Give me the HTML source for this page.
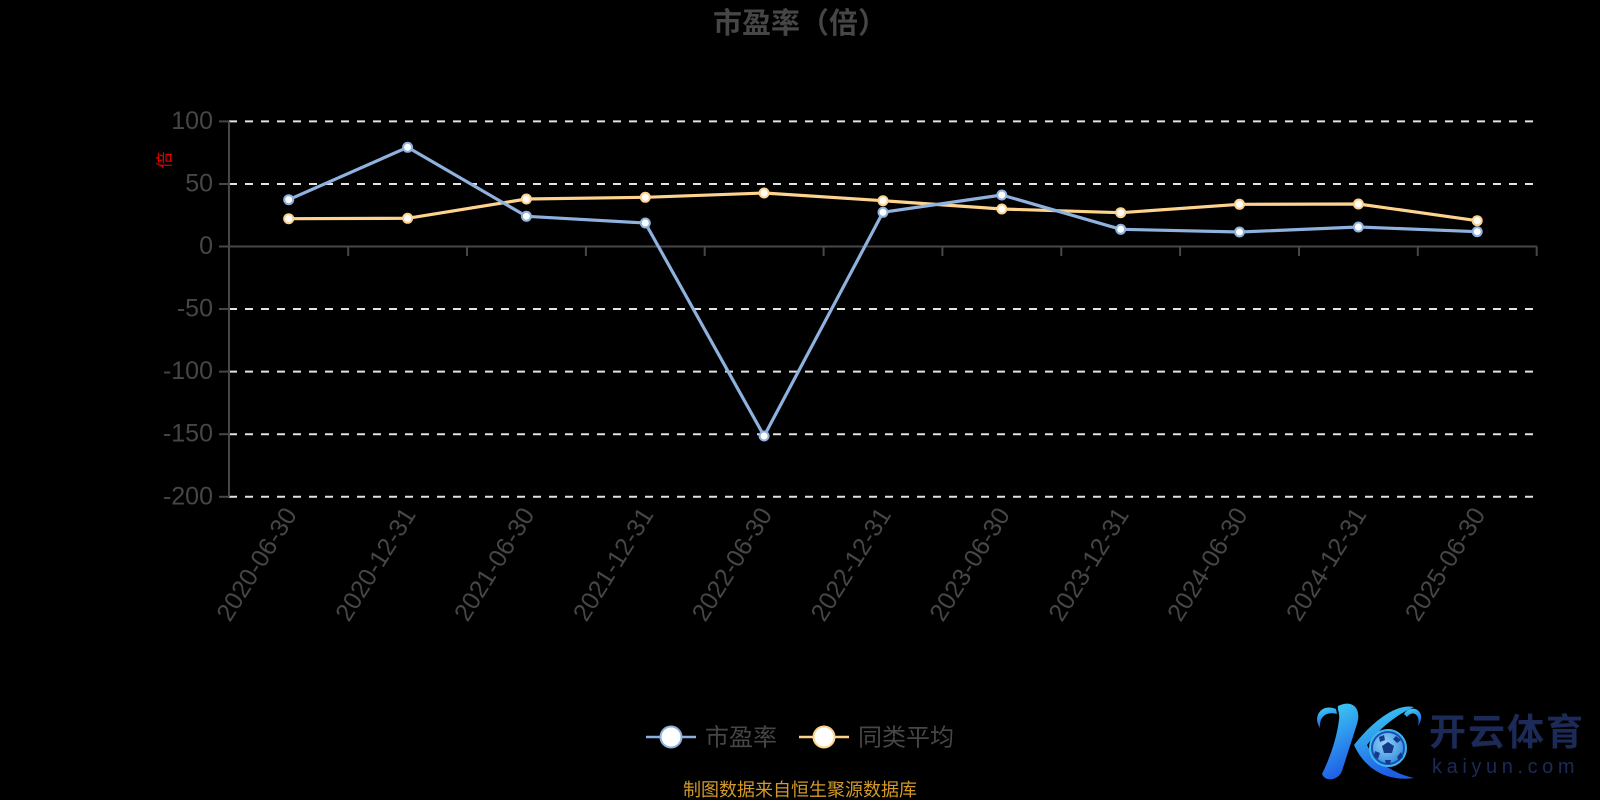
<!DOCTYPE html>
<html>
<head>
<meta charset="utf-8">
<style>
html,body{margin:0;padding:0;background:#000;}
svg{display:block;}
text{font-family:"Liberation Sans","Noto Sans CJK SC",sans-serif;}
</style>
</head>
<body>
<svg width="1600" height="800" viewBox="0 0 1600 800" xmlns="http://www.w3.org/2000/svg">
<rect width="1600" height="800" fill="#000"/>
<defs>
<linearGradient id="kg" x1="0" y1="0" x2="0.3" y2="1">
<stop offset="0" stop-color="#3fd6f5"/>
<stop offset="1" stop-color="#1f5fe6"/>
</linearGradient>
<radialGradient id="bg" cx="0.4" cy="0.35" r="0.7">
<stop offset="0" stop-color="#8fd2f7"/>
<stop offset="1" stop-color="#3a8fe0"/>
</radialGradient>
</defs>

<!-- title -->
<text x="800" y="33" text-anchor="middle" font-size="29" font-weight="bold" fill="#464646" style="font-family:'Noto Sans CJK SC',sans-serif">市盈率（倍）</text>

<!-- grid lines -->
<g stroke="#e2e2e2" stroke-width="2" stroke-dasharray="8 8" fill="none">
<line x1="229" y1="121.4" x2="1537" y2="121.4"/>
<line x1="229" y1="184" x2="1537" y2="184"/>
<line x1="229" y1="309" x2="1537" y2="309"/>
<line x1="229" y1="371.6" x2="1537" y2="371.6"/>
<line x1="229" y1="434.2" x2="1537" y2="434.2"/>
<line x1="229" y1="496.8" x2="1537" y2="496.8"/>
</g>

<!-- axes -->
<g stroke="#474747" stroke-width="2" fill="none">
<line x1="229" y1="121.4" x2="229" y2="496.8"/>
<line x1="219" y1="121.4" x2="229" y2="121.4"/>
<line x1="219" y1="184" x2="229" y2="184"/>
<line x1="219" y1="246.5" x2="229" y2="246.5"/>
<line x1="219" y1="309" x2="229" y2="309"/>
<line x1="219" y1="371.6" x2="229" y2="371.6"/>
<line x1="219" y1="434.2" x2="229" y2="434.2"/>
<line x1="219" y1="496.8" x2="229" y2="496.8"/>
<line x1="229" y1="246.5" x2="1537" y2="246.5"/>
<line x1="348.2" y1="246.5" x2="348.2" y2="256"/>
<line x1="467" y1="246.5" x2="467" y2="256"/>
<line x1="585.9" y1="246.5" x2="585.9" y2="256"/>
<line x1="704.7" y1="246.5" x2="704.7" y2="256"/>
<line x1="823.6" y1="246.5" x2="823.6" y2="256"/>
<line x1="942.4" y1="246.5" x2="942.4" y2="256"/>
<line x1="1061.3" y1="246.5" x2="1061.3" y2="256"/>
<line x1="1180.1" y1="246.5" x2="1180.1" y2="256"/>
<line x1="1299" y1="246.5" x2="1299" y2="256"/>
<line x1="1417.8" y1="246.5" x2="1417.8" y2="256"/>
<line x1="1536.7" y1="246.5" x2="1536.7" y2="256"/>
</g>

<!-- y labels -->
<g font-size="25" fill="#464646" text-anchor="end">
<text x="213" y="129">100</text>
<text x="213" y="191.5">50</text>
<text x="213" y="254">0</text>
<text x="213" y="316.5">-50</text>
<text x="213" y="379">-100</text>
<text x="213" y="441.7">-150</text>
<text x="213" y="504.3">-200</text>
</g>

<!-- y axis name -->
<text x="0" y="0" font-size="17" fill="#e00000" text-anchor="middle" transform="translate(166,160) rotate(-90)" dominant-baseline="middle" style="font-family:'Noto Sans CJK SC',sans-serif">倍</text>

<!-- x labels -->
<g font-size="25" fill="#464646" text-anchor="end" dominant-baseline="middle">
<text transform="translate(292,511) rotate(-58)">2020-06-30</text>
<text transform="translate(410.9,511) rotate(-58)">2020-12-31</text>
<text transform="translate(529.7,511) rotate(-58)">2021-06-30</text>
<text transform="translate(648.6,511) rotate(-58)">2021-12-31</text>
<text transform="translate(767.4,511) rotate(-58)">2022-06-30</text>
<text transform="translate(886.3,511) rotate(-58)">2022-12-31</text>
<text transform="translate(1005.1,511) rotate(-58)">2023-06-30</text>
<text transform="translate(1124,511) rotate(-58)">2023-12-31</text>
<text transform="translate(1242.8,511) rotate(-58)">2024-06-30</text>
<text transform="translate(1361.7,511) rotate(-58)">2024-12-31</text>
<text transform="translate(1480.5,511) rotate(-58)">2025-06-30</text>
</g>

<!-- orange series -->
<polyline fill="none" stroke="#fdd38e" stroke-width="3.2" stroke-linejoin="round"
points="288.7,218.7 407.6,218.3 526.4,199 645.3,197.3 764.1,193 883,200.7 1001.8,209 1120.7,212.7 1239.5,204.3 1358.4,204 1477.2,220.7"/>
<!-- blue series -->
<polyline fill="none" stroke="#8eb1de" stroke-width="3.2" stroke-linejoin="round"
points="288.7,199.7 407.6,147.3 526.4,216.3 645.3,223 764.1,436 883,212.3 1001.8,195 1120.7,229.3 1239.5,232 1358.4,227 1477.2,231.7"/>

<!-- markers -->
<g fill="#fff" stroke="#fdd38e" stroke-width="2">
<circle cx="288.7" cy="218.7" r="4.5"/>
<circle cx="407.6" cy="218.3" r="4.5"/>
<circle cx="526.4" cy="199" r="4.5"/>
<circle cx="645.3" cy="197.3" r="4.5"/>
<circle cx="764.1" cy="193" r="4.5"/>
<circle cx="883" cy="200.7" r="4.5"/>
<circle cx="1001.8" cy="209" r="4.5"/>
<circle cx="1120.7" cy="212.7" r="4.5"/>
<circle cx="1239.5" cy="204.3" r="4.5"/>
<circle cx="1358.4" cy="204" r="4.5"/>
<circle cx="1477.2" cy="220.7" r="4.5"/>
</g>
<g fill="#fff" stroke="#8eb1de" stroke-width="2">
<circle cx="288.7" cy="199.7" r="4.5"/>
<circle cx="407.6" cy="147.3" r="4.5"/>
<circle cx="526.4" cy="216.3" r="4.5"/>
<circle cx="645.3" cy="223" r="4.5"/>
<circle cx="764.1" cy="436" r="4.5"/>
<circle cx="883" cy="212.3" r="4.5"/>
<circle cx="1001.8" cy="195" r="4.5"/>
<circle cx="1120.7" cy="229.3" r="4.5"/>
<circle cx="1239.5" cy="232" r="4.5"/>
<circle cx="1358.4" cy="227" r="4.5"/>
<circle cx="1477.2" cy="231.7" r="4.5"/>
</g>

<!-- legend -->
<line x1="646" y1="737" x2="696" y2="737" stroke="#8eb1de" stroke-width="2.5"/>
<circle cx="671" cy="737" r="10.5" fill="#fff" stroke="#8eb1de" stroke-width="2"/>
<text x="705" y="745.5" font-size="24" fill="#464646" style="font-family:'Noto Sans CJK SC',sans-serif">市盈率</text>
<line x1="799" y1="737" x2="849" y2="737" stroke="#fdd38e" stroke-width="2.5"/>
<circle cx="824" cy="737" r="10.5" fill="#fff" stroke="#fdd38e" stroke-width="2"/>
<text x="858" y="745.5" font-size="24" fill="#464646" style="font-family:'Noto Sans CJK SC',sans-serif">同类平均</text>

<!-- footer -->
<text x="800" y="796" text-anchor="middle" font-size="18" fill="#d39a27" style="font-family:'Noto Sans CJK SC',sans-serif">制图数据来自恒生聚源数据库</text>

<!-- logo -->
<g>
<path d="M1336,709 C1322,703 1312,716 1320,728 C1319,717 1326,711 1337,714 Z" fill="url(#kg)"/>
<path d="M1338,706 C1352,699 1362,708 1357,724 L1342,771 C1338,781 1325,782 1322,774 C1331,756 1337,736 1339,720 C1340,713 1337,709 1338,706 Z" fill="url(#kg)"/>
<path d="M1414,707 C1396,703 1372,722 1354,745 C1364,767 1384,782 1414,778 C1392,773 1375,761 1367,745 C1380,728 1396,715 1414,707 Z" fill="url(#kg)"/>
<path d="M1404,714 C1412,702 1428,712 1418,726 C1421,714 1412,710 1407,717 Z" fill="url(#kg)"/>
<circle cx="1388" cy="748" r="18" fill="#1b4fb8" stroke="#3fb8f0" stroke-width="2"/>
<circle cx="1388" cy="748" r="15" fill="url(#bg)"/>
<polygon points="1388,742 1394,746 1392,753 1384,753 1382,746" fill="#163a8a"/>
<polygon points="1379,737 1384,735 1385,740 1380,742" fill="#163a8a"/>
<polygon points="1396,736 1401,740 1397,743 1393,739" fill="#163a8a"/>
<polygon points="1375,751 1380,753 1378,759 1374,756" fill="#163a8a"/>
<polygon points="1397,757 1401,752 1403,757 1399,761" fill="#163a8a"/>
<polygon points="1385,760 1391,760 1390,764 1386,764" fill="#163a8a"/>
<text x="1429" y="745" font-size="37" font-weight="bold" fill="#1c2a58" letter-spacing="2" style="font-family:'Noto Sans CJK SC',sans-serif">开云体育</text>
<text x="1432" y="773" font-size="20" fill="#1c2a58" letter-spacing="4.6">kaiyun.com</text>
</g>
</svg>
</body>
</html>
